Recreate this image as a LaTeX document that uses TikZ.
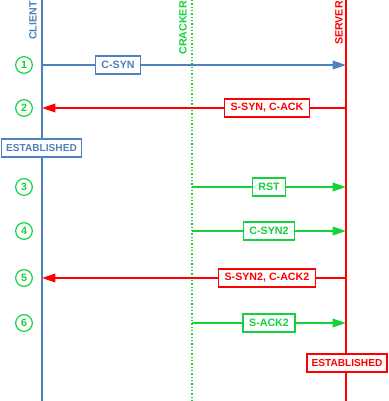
\documentclass[tikz,border=0pt]{standalone}
\usepackage{fontspec}
\setmainfont{Liberation Sans}
\usetikzlibrary{arrows.meta,positioning}
\definecolor{cliblue}{RGB}{79,129,189}
\definecolor{crkgreen}{RGB}{20,210,60}
\definecolor{srvred}{RGB}{255,0,0}

\begin{document}
\begin{tikzpicture}[x=0.75pt,y=-0.75pt,
font=\fontsize{8}{9.5}\selectfont\bfseries,
life/.style={line width=1.5pt},
tag/.style={rotate=90,anchor=east,inner sep=0pt},
msg/.style={draw,fill=white,line width=1pt,inner xsep=4.5pt,inner ysep=0pt,minimum height=13.5pt},
est/.style={msg,inner xsep=3.5pt,font=\fontsize{7.6}{9}\selectfont\bfseries},
flow/.style={-{Triangle[length=10pt,width=6.5pt]},line width=1pt},
num/.style={draw=crkgreen,text=crkgreen,circle,line width=0.9pt,minimum size=12.5pt,inner sep=0pt}]
\useasboundingbox (0,0) rectangle (389,401);
% lifelines
\coordinate (cT) at (42,0);  \coordinate (cB) at (42,401);
\coordinate (kT) at (192,0); \coordinate (kB) at (192,401);
\coordinate (sT) at (346,0); \coordinate (sB) at (346,401);
\draw[life,cliblue] (cT) -- (cB);
\draw[crkgreen,line width=1pt,dash pattern=on 1pt off 1.5pt] (kT) -- (kB);
\draw[life,srvred] (sT) -- (sB);
\node[tag,text=cliblue] (ctag) at (33,1) {CLIENT};
\node[tag,text=crkgreen] (ktag) at (183,1) {CRACKER};
\node[tag,text=srvred] (stag) at (339,1) {SERVER};
% steps
\foreach \n/\y in {1/65,2/108,3/187,4/231,5/278,6/323} {
  \coordinate (c\n) at (42,\y);
  \coordinate (k\n) at (192,\y);
  \coordinate (s\n) at (346,\y);
  \node[num] (n\n) at (24,\y) {\n};
}
\draw[flow,cliblue] (c1) -- node[msg,pos=0.25] (m1) {C-SYN} (s1);
\draw[flow,srvred] (s2) -- node[msg,pos=0.26] (m2) {S-SYN, C-ACK} (c2);
\draw[flow,crkgreen] (k3) -- node[msg] (m3) {RST} (s3);
\draw[flow,crkgreen] (k4) -- node[msg] (m4) {C-SYN2} (s4);
\draw[flow,srvred] (s5) -- node[msg,pos=0.26] (m5) {S-SYN2, C-ACK2} (c5);
\draw[flow,crkgreen] (k6) -- node[msg] (m6) {S-ACK2} (s6);
\node[est,draw=cliblue,text=cliblue] (cest) at (41.5,148) {ESTABLISHED};
\node[est,draw=srvred,text=srvred] (sest) at (347,363) {ESTABLISHED};
\end{tikzpicture}
\end{document}
